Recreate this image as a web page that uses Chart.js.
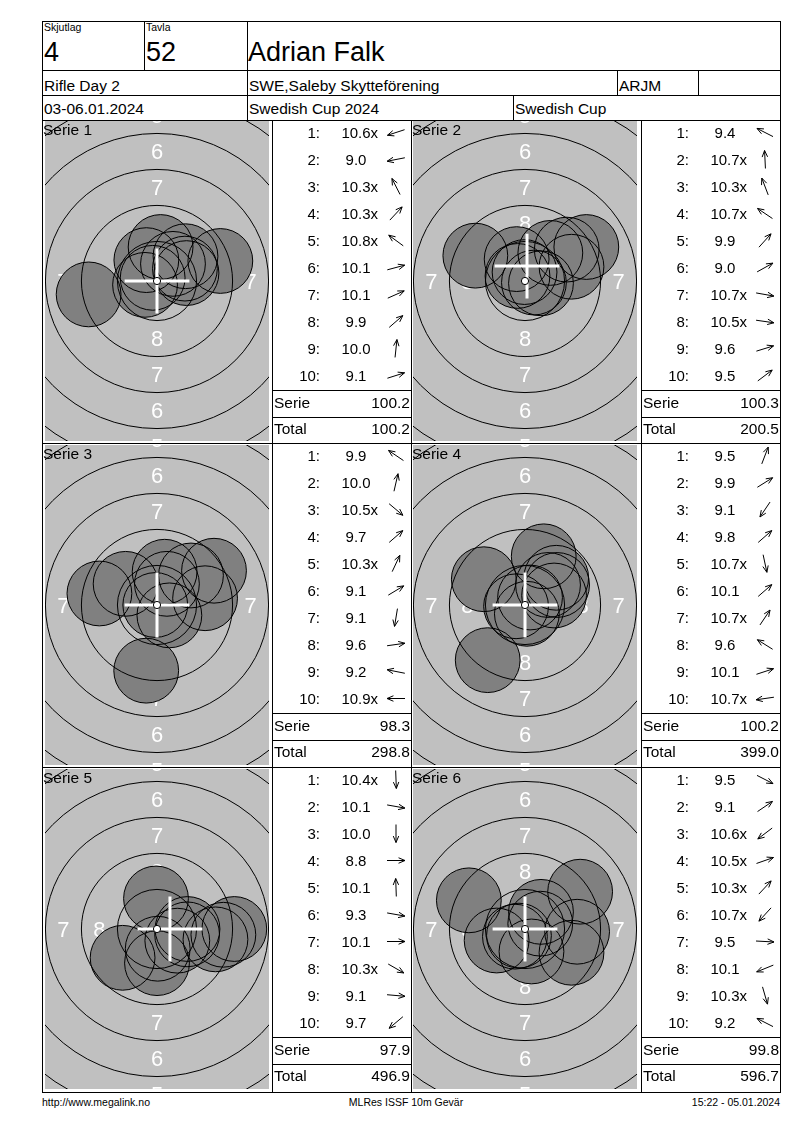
<!DOCTYPE html>
<html><head><meta charset="utf-8">
<script src="https://cdn.jsdelivr.net/npm/chart.js@4.4.1/dist/chart.umd.min.js"></script>
<style>
html,body{margin:0;padding:0;background:#fff;}
#page{position:relative;width:800px;height:1130px;overflow:hidden;font-family:"Liberation Sans",Arial,sans-serif;color:#000;}
#page div{position:absolute;}
</style></head><body><div id="page"></div>
<script>
// ---------- DATA ----------
const seriesLabels = ["Serie 1","Serie 2","Serie 3","Serie 4","Serie 5","Serie 6"];
const scores1 = ["10.6x","9.0","10.3x","10.3x","10.8x","10.1","10.1","9.9","10.0","9.1"];
const scores2 = ["9.4","10.7x","10.3x","10.7x","9.9","9.0","10.7x","10.5x","9.6","9.5"];
const scores3 = ["9.9","10.0","10.5x","9.7","10.3x","9.1","9.1","9.6","9.2","10.9x"];
const scores4 = ["9.5","9.9","9.1","9.8","10.7x","10.1","10.7x","9.6","10.1","10.7x"];
const scores5 = ["10.4x","10.1","10.0","8.8","10.1","9.3","10.1","10.3x","9.1","9.7"];
const scores6 = ["9.5","9.1","10.6x","10.5x","10.3x","10.7x","9.5","10.1","10.3x","9.2"];
// shot positions in mm from target centre (x right, y up)
const shotsX1 = [-0.83,-4.75,-0.74,1.11,-0.30,2.05,1.94,1.98,0.25,4.40];
const shotsY1 = [-0.27,-0.93,1.45,1.19,0.22,0.55,0.86,1.72,2.36,1.39];
const shotsX2 = [-3.45,-0.03,-0.58,-0.52,1.76,4.26,0.62,1.11,3.23,2.90];
const shotsY2 = [1.76,0.62,1.52,0.35,1.95,2.36,-0.11,-0.16,0.99,2.18];
const shotsX3 = [-2.18,0.53,0.86,2.36,0.69,3.96,-0.75,3.34,-4.00,-0.12];
const shotsY3 = [1.47,2.31,-0.72,2.05,1.47,2.38,-4.56,0.47,0.80,0.00];
const shotsX4 = [1.30,2.23,-2.59,2.17,0.13,1.60,0.35,-2.86,2.02,-0.62];
const shotsY4 = [3.38,1.39,-3.83,1.89,-0.61,1.39,0.52,1.79,0.66,-0.09];
const shotsX5 = [0.05,2.09,0.00,5.37,-0.07,4.06,2.12,1.41,4.61,-2.39];
const shotsY5 = [-1.37,-0.37,-2.37,0.00,2.12,-0.72,0.00,-0.81,-0.40,-2.00];
const shotsX6 = [3.23,3.83,-0.70,1.06,1.11,-0.42,3.62,-1.97,0.45,-3.90];
const shotsY6 = [-1.65,2.59,-0.53,0.37,1.19,-0.46,-0.19,-0.80,-1.56,1.99];
const serieTotals = ["100.2","100.3","98.3","100.2","97.9","99.8"];
const runningTotals = ["100.2","200.5","298.8","399.0","496.9","596.7"];
// group centre marker (mm)
const mpiX = [0,0.14,0,0,0.90,0];
const mpiY = [0,1.04,0,0,0,0];
// ISSF 10m air rifle target
const ringNumbers = [10,9,8,7,6,5,4];
const ringRadii = [0.25,2.75,5.25,7.75,10.25,12.75,15.25];
const labelledRings = [8,7,6,5];
const shotRadius = 2.25; // mm (4.5 mm pellet)

const allScores = [scores1,scores2,scores3,scores4,scores5,scores6];
const allX = [shotsX1,shotsX2,shotsX3,shotsX4,shotsX5,shotsX6];
const allY = [shotsY1,shotsY2,shotsY3,shotsY4,shotsY5,shotsY6];

// ---------- LAYOUT HELPERS ----------
const page = document.getElementById('page');
const FONT = '"Liberation Sans",Arial,sans-serif';
function rect(x,y,w,h,c){const d=document.createElement('div');d.style.cssText=`left:${x}px;top:${y}px;width:${w}px;height:${h}px;background:${c||'#000'}`;page.appendChild(d);return d;}
function hl(x1,x2,y){rect(x1,y,x2-x1+1,1);}
function vl(x,y1,y2){rect(x,y1,1,y2-y1+1);}
function txt(str,x,base,size,align,suffix){
  const d=document.createElement('div');
  d.textContent=str;
  let s=`top:${(base-0.8465*size).toFixed(2)}px;font-size:${size}px;line-height:${size}px;white-space:nowrap;z-index:5;`;
  if(align==='right') s+=`right:${800-x}px;`;
  else if(align==='center') s+=`left:${x}px;transform:translateX(-50%);`;
  else s+=`left:${x}px;`;
  d.style.cssText=s;
  if(suffix){const sp=document.createElement('span');sp.textContent=suffix;sp.style.cssText='position:absolute;left:100%;top:0;';d.appendChild(sp);}
  page.appendChild(d);return d;
}

// ---------- HEADER ----------
hl(42,780,21); hl(42,780,70); hl(42,780,95); hl(42,780,120);
vl(42,21,1092); vl(780,21,1092);
vl(144,21,70); vl(247,21,120); vl(617,70,95); vl(698,70,95); vl(513,95,120);
txt("Skjutlag",44,31,10.5); txt("Tavla",146,31,10.5);
txt("4",44,62,27); txt("52",146,62,27); txt("Adrian Falk",248,62,27);
txt("Rifle Day 2",44,91,15.5); txt("SWE,Saleby Skytteförening",249,91,15.5); txt("ARJM",619,91,15.5);
txt("03-06.01.2024",44,114.5,15.5); txt("Swedish Cup 2024",249,114.5,15.5); txt("Swedish Cup",515,114.5,15.5);

hl(42,780,443); hl(42,780,767); hl(42,780,1092);
vl(272,120,1092); vl(411,120,1092); vl(641,120,1092);

txt("http://www.megalink.no",42,1106,10.5);
txt("MLRes ISSF 10m Gevär",406,1106,10.5,'center');
txt("15:22 - 05.01.2024",780,1106,10.5,'right');

// ---------- TARGET CHARTS ----------
function pxPerMm(chart){const s=chart.scales.x;return Math.abs(s.getPixelForValue(1)-s.getPixelForValue(0));}
function targetPlugin(i){
  return {
    id:'target'+i,
    beforeDatasetsDraw(chart){
      const {ctx,chartArea:a,scales:{x,y}}=chart;
      const k=pxPerMm(chart), cx=x.getPixelForValue(0), cy=y.getPixelForValue(0);
      ctx.save();
      ctx.fillStyle='#c0c0c0'; ctx.fillRect(a.left,a.top,a.width,a.height);
      ctx.fillStyle='#ffffff'; ctx.font='22px '+FONT; ctx.textAlign='center'; ctx.textBaseline='alphabetic';
      labelledRings.forEach(n=>{
        const idx=ringNumbers.indexOf(n);
        const r=(ringRadii[idx]+ringRadii[idx-1])/2*k;
        const off=22*0.358;
        [[0,-r],[0,r],[-r,0],[r,0]].forEach(([dx,dy])=>ctx.fillText(String(n),cx+dx,cy+dy+off));
      });
      ctx.restore();
    },
    afterDatasetsDraw(chart){
      const {ctx,chartArea:a,scales:{x,y}}=chart;
      const k=pxPerMm(chart), cx=x.getPixelForValue(0), cy=y.getPixelForValue(0);
      ctx.save();
      ctx.beginPath(); ctx.rect(a.left,a.top,a.width,a.height); ctx.clip();
      ctx.strokeStyle='#000'; ctx.lineWidth=1;
      ringNumbers.forEach((n,idx)=>{
        if(n===10) return;
        ctx.beginPath(); ctx.arc(cx,cy,ringRadii[idx]*k,0,Math.PI*2); ctx.stroke();
      });
      const mx=x.getPixelForValue(mpiX[i]), my=y.getPixelForValue(mpiY[i]), h=shotRadius*k;
      ctx.strokeStyle='#fff'; ctx.lineWidth=3;
      ctx.beginPath(); ctx.moveTo(mx-h,my); ctx.lineTo(mx+h,my); ctx.moveTo(mx,my-h); ctx.lineTo(mx,my+h); ctx.stroke();
      ctx.lineWidth=1; ctx.strokeStyle='#000';
      ctx.beginPath(); ctx.arc(cx,cy,ringRadii[0]*k,0,Math.PI*2); ctx.fillStyle='#fff'; ctx.fill(); ctx.stroke();
      ctx.restore();
    }
  };
}
function makeTarget(i,left,top){
  const c=document.createElement('canvas');
  c.width=224; c.height=320;
  c.style.cssText=`position:absolute;left:${left}px;top:${top}px;width:224px;height:320px;`;
  page.appendChild(c);
  const pts1=allX[i].map((v,j)=>({x:v,y:allY[i][j]}));
  const pts2=allX[i].map((v,j)=>({x:v,y:allY[i][j]}));
  const rad=(ctx)=>{const v=shotRadius*pxPerMm(ctx.chart);return isFinite(v)?v:0;};
  new Chart(c,{
    type:'scatter',
    data:{datasets:[
      // outlines (drawn on top: lower order)
      {data:pts2,order:1,showLine:false,pointBackgroundColor:'rgba(0,0,0,0)',pointBorderColor:'#000',pointBorderWidth:1,pointRadius:rad,pointHoverRadius:rad},
      // fills (drawn first)
      {data:pts1,order:2,showLine:false,pointBackgroundColor:'#808080',pointBorderWidth:0,pointBorderColor:'rgba(0,0,0,0)',pointRadius:rad,pointHoverRadius:rad}
    ]},
    options:{
      responsive:false,maintainAspectRatio:false,animation:false,events:[],devicePixelRatio:1,
      layout:{padding:0},
      plugins:{legend:{display:false},tooltip:{enabled:false}},
      scales:{
        x:{type:'linear',min:-7.78,max:7.78,display:false},
        y:{type:'linear',min:-11.11,max:11.11,display:false}
      }
    },
    plugins:[targetPlugin(i)]
  });
}

// ---------- SCORE TABLES ----------
function drawArrow(ctx,cx,cy,ang){
  const L=18,H=7,hw=0.4;
  const dx=Math.cos(ang),dy=-Math.sin(ang);
  const tx=cx+dx*L/2,ty=cy+dy*L/2,sx=cx-dx*L/2,sy=cy-dy*L/2;
  ctx.beginPath(); ctx.moveTo(sx,sy); ctx.lineTo(tx,ty);
  const back=Math.atan2(dy,dx)+Math.PI;
  [hw,-hw].forEach(o=>{ctx.moveTo(tx,ty);ctx.lineTo(tx+Math.cos(back+o)*H,ty+Math.sin(back+o)*H);});
  ctx.stroke();
}
const rowLines=[120,443,767];
const grayTops=[121,445,769];
for(let i=0;i<6;i++){
  const col=i%2,row=Math.floor(i/2);
  const top=rowLines[row];
  makeTarget(i,col?413:45,grayTops[row]);
  txt(seriesLabels[i],col?412:43,grayTops[row]+14,15.5);
  const X=col?641:272;
  const ac=document.createElement('canvas');
  ac.width=30; ac.height=270;
  ac.style.cssText=`position:absolute;left:${X+109}px;top:${top}px;width:30px;height:270px;`;
  page.appendChild(ac);
  const actx=ac.getContext('2d'); actx.strokeStyle='#000'; actx.lineWidth=1;
  allScores[i].forEach((s,j)=>{
    const base=top+18+j*27;
    txt((j+1)+':',X+48,base,15,'right');
    const isX=s.endsWith('x');
    txt(isX?s.slice(0,-1):s,X+84,base,15,'center',isX?'x':null);
    drawArrow(actx,15,18+j*27-5.5,Math.atan2(allY[i][j],allX[i][j]));
  });
  hl(X,X+139,top+270); hl(X,X+139,top+297);
  txt("Serie",X+2,top+288.5,15.5); txt(serieTotals[i],X+138,top+288.5,15.5,'right');
  txt("Total",X+2,top+314,15.5); txt(runningTotals[i],X+138,top+314,15.5,'right');
}
</script></body></html>
